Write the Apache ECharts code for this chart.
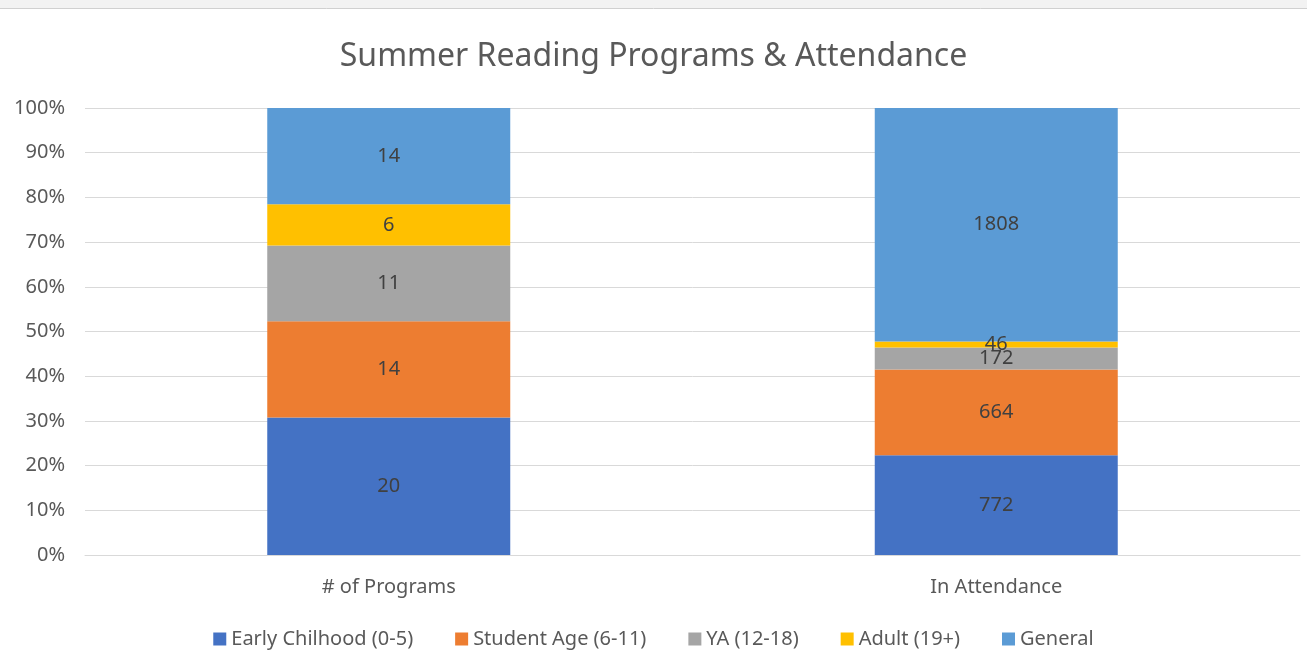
<!DOCTYPE html>
<html>
<head>
<meta charset="utf-8">
<script src="https://cdn.jsdelivr.net/npm/echarts@6/dist/echarts.min.js"></script>
<style>
  html, body { margin: 0; padding: 0; background: #fff; }
  #chart { width: 1307px; height: 668px; }
</style>
</head>
<body>
<div id="chart"></div>
<script>
const categories = ['# of Programs', 'In Attendance'];
const seriesNames = ['Early Chilhood (0-5)', 'Student Age (6-11)', 'YA (12-18)', 'Adult (19+)', 'General'];
const colors = ['#4472C4', '#ED7D31', '#A5A5A5', '#FFC000', '#5B9BD5'];

// raw counts per series: [programs, attendance]
const earlyChildhood = [20, 772];
const studentAge = [14, 664];
const youngAdult = [11, 172];
const adult = [6, 46];
const general = [14, 1808];

const rawSeries = [earlyChildhood, studentAge, youngAdult, adult, general];

// totals per category for the 100% stack
const totals = categories.map((c, i) => rawSeries.reduce((s, arr) => s + arr[i], 0));

const chart = echarts.init(document.getElementById('chart'));

const font = "'Noto Sans', 'Open Sans', sans-serif";

const series = rawSeries.map((arr, k) => ({
    name: seriesNames[k],
    type: 'bar',
    stack: 'total',
    barWidth: '40%',
    itemStyle: { color: colors[k] },
    label: {
        show: true,
        position: 'inside',
        color: '#404040',
        fontSize: 20,
        fontFamily: font,
        formatter: p => arr[p.dataIndex]
    },
    data: arr.map((v, i) => v / totals[i] * 100)
}));

const option = {
    backgroundColor: '#fff',
    animation: false,
    graphic: [{
        type: 'rect',
        left: 0,
        top: 0,
        shape: { width: 1307, height: 8 },
        style: { fill: '#f2f2f2' }
    }, {
        type: 'line',
        shape: { x1: 0, y1: 8.5, x2: 1307, y2: 8.5 },
        style: { stroke: '#d0d0d0', lineWidth: 1 }
    }],
    title: {
        text: 'Summer Reading Programs & Attendance',
        left: 'center',
        top: 36,
        textStyle: {
            color: '#595959',
            fontSize: 32,
            fontWeight: 'normal',
            fontFamily: font
        }
    },
    legend: {
        bottom: 14,
        left: 'center',
        itemWidth: 13,
        itemHeight: 13,
        itemGap: 42,
        icon: 'rect',
        textStyle: { color: '#595959', fontSize: 20, fontFamily: font },
        data: seriesNames
    },
    grid: {
        left: 85,
        right: 7,
        top: 108,
        bottom: 113
    },
    xAxis: {
        type: 'category',
        data: categories,
        axisTick: { show: false },
        axisLine: { lineStyle: { color: '#d9d9d9' } },
        axisLabel: { color: '#595959', fontSize: 20, fontFamily: font, margin: 22 }
    },
    yAxis: {
        type: 'value',
        min: 0,
        max: 100,
        interval: 10,
        axisLine: { show: false },
        axisTick: { show: false },
        splitLine: { lineStyle: { color: '#d9d9d9' } },
        axisLabel: {
            color: '#595959',
            fontSize: 20,
            fontFamily: font,
            margin: 20,
            formatter: '{value}%'
        }
    },
    series: series
};

chart.setOption(option);
</script>
</body>
</html>
